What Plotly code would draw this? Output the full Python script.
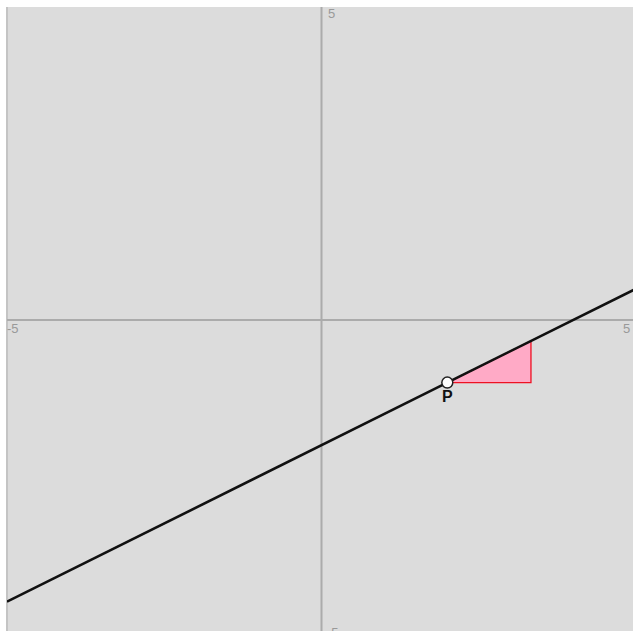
import plotly.graph_objects as go

# Data
line_x = [-5, 5]
line_y = [-4.5, 0.5]
tri_x = [2, 3.33, 3.33, 2]
tri_y = [-1, -1, -0.335, -1]
point_x = [2]
point_y = [-1]
point_label = ["P"]
tick_labels = ["5", "-5", "5", "-5"]

fig = go.Figure()

# axes lines
fig.add_shape(type="line", x0=0, x1=0, y0=-6, y1=6, xref="x", yref="y",
              line=dict(color="#ababab", width=2), layer="below")
fig.add_shape(type="line", x0=-6, x1=6, y0=0, y1=0, xref="x", yref="y",
              line=dict(color="#ababab", width=2), layer="below")
# left border strip
fig.add_shape(type="line", x0=0, x1=0, y0=0, y1=1, xref="paper", yref="paper",
              line=dict(color="#c4c4c4", width=2), layer="below")

fig.add_trace(go.Scatter(x=tri_x, y=tri_y, mode="lines", fill="toself",
                         fillcolor="#ffaac6", line=dict(color="#ee1122", width=1.3),
                         hoverinfo="skip"))
fig.add_trace(go.Scatter(x=line_x, y=line_y, mode="lines",
                         line=dict(color="#111111", width=2.6), hoverinfo="skip"))
fig.add_trace(go.Scatter(x=point_x, y=point_y, mode="markers+text",
                         marker=dict(size=11, color="white", line=dict(color="#222222", width=1.5)),
                         text=[f"<b>{t}</b>" for t in point_label], textposition="bottom center",
                         textfont=dict(family="Liberation Sans, Arial", size=16, color="#111111"),
                         hoverinfo="skip"))

lab_font = dict(family="Liberation Sans, Arial", size=13, color="#999999")
fig.add_annotation(x=0, y=5, xref="x", yref="y", text=tick_labels[0], showarrow=False,
                   xanchor="left", yanchor="top", xshift=4, yshift=3, font=lab_font)
fig.add_annotation(x=-5, y=0, xref="x", yref="y", text=tick_labels[1], showarrow=False,
                   xanchor="left", yanchor="top", xshift=-2, yshift=1, font=lab_font)
fig.add_annotation(x=1, y=0, xref="paper", yref="y", text=tick_labels[2], showarrow=False,
                   xanchor="right", yanchor="top", xshift=-1, yshift=1, font=lab_font)
fig.add_annotation(x=0, y=0, xref="x", yref="paper", text=tick_labels[3], showarrow=False,
                   xanchor="left", yanchor="bottom", xshift=3, yshift=-11, font=lab_font)

fig.update_layout(
    width=633, height=631,
    margin=dict(l=7, r=0, t=7, b=0, pad=0),
    paper_bgcolor="white", plot_bgcolor="#dcdcdc",
    showlegend=False,
    xaxis=dict(range=[-5, 4.952], visible=False, fixedrange=True),
    yaxis=dict(range=[-4.968, 5], visible=False, fixedrange=True),
)

fig.write_html("out.html", config={"displayModeBar": False},
               post_script="document.body.style.margin='0';document.body.style.overflow='hidden';")
